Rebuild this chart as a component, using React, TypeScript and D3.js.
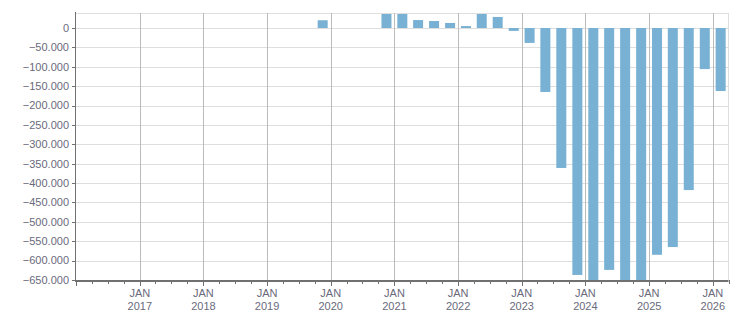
import React from "react";
import * as d3 from "d3";

const quarters: string[] = [
  "2019-Q4", "2020-Q4", "2021-Q1", "2021-Q2", "2021-Q3", "2021-Q4",
  "2022-Q1", "2022-Q2", "2022-Q3", "2022-Q4", "2023-Q1", "2023-Q2",
  "2023-Q3", "2023-Q4", "2024-Q1", "2024-Q2", "2024-Q3", "2024-Q4",
  "2025-Q1", "2025-Q2", "2025-Q3", "2025-Q4", "2026-Q1",
];
const values: number[] = [
  20000, 38000, 37000, 20500, 18000, 13000,
  5000, 37000, 28500, -7500, -38500, -165000,
  -361000, -637000, -660000, -624000, -660000, -660000,
  -585000, -565000, -418000, -106000, -162500,
];
const yTicks: number[] = [0, -50000, -100000, -150000, -200000, -250000, -300000, -350000, -400000, -450000, -500000, -550000, -600000, -650000];
const yearTicks: number[] = [2017, 2018, 2019, 2020, 2021, 2022, 2023, 2024, 2025, 2026];

const W = 751, H = 313;
const L = 76, R = 728.5, T = 13, B = 280;
const FONT = "'Liberation Sans', Arial, sans-serif";
const TXT = "#6a6a7c";

function qStart(q: string): Date {
  const [y, qq] = q.split("-Q");
  return new Date(Date.UTC(+y, (+qq - 1) * 3, 1));
}

export default function App() {
  const x = d3.scaleUtc().domain([new Date(Date.UTC(2016, 0, 1)), new Date(Date.UTC(2026, 3, 1))]).range([L, R]);
  const y = d3.scaleLinear().domain([-650000, 38700]).range([B, T]);
  const fmt = (v: number) => d3.format(",")(v).replace(/,/g, ".");
  const quarterTicks = d3.utcMonth.every(3)!.range(new Date(Date.UTC(2016, 0, 1)), new Date(Date.UTC(2026, 3, 2)));
  const bw = 10;

  return (
    <svg width={W} height={H} style={{ position: "absolute", left: 0, top: 0 }}>
      <defs>
        <clipPath id="plot">
          <rect x={L} y={T + 1} width={R - L} height={B - T - 1} />
        </clipPath>
      </defs>
      <rect x={0} y={0} width={W} height={H} fill="#fff" />
      {/* horizontal grid */}
      {yTicks.map((t) => (
        <line key={"hg" + t} x1={L} x2={R} y1={Math.round(y(t)) + 0.5} y2={Math.round(y(t)) + 0.5} stroke="#dedede" strokeWidth={1} />
      ))}
      <line x1={L} x2={R} y1={T + 0.5} y2={T + 0.5} stroke="#dedede" />
      <line x1={R} x2={R} y1={T} y2={B} stroke="#dedede" />
      {/* vertical year grid */}
      {yearTicks.map((yr) => {
        const xx = Math.round(x(new Date(Date.UTC(yr, 0, 1)))) + 0.5;
        return <line key={"vg" + yr} x1={xx} x2={xx} y1={T} y2={B} stroke="#bbbbbb" />;
      })}
      {/* bars */}
      <g clipPath="url(#plot)">
        {quarters.map((q, i) => {
          const s = qStart(q);
          const e = d3.utcMonth.offset(s, 3);
          const cx = (x(s) + x(e)) / 2;
          const v = values[i];
          const y0 = y(0), y1 = y(v);
          return (
            <rect key={q} x={cx - bw / 2} y={Math.min(y0, y1)} width={bw} height={Math.abs(y1 - y0)} fill="#78b1d4" />
          );
        })}
      </g>
      {/* y axis */}
      <line x1={L - 0.5} x2={L - 0.5} y1={T - 1} y2={B + 1} stroke="#707070" />
      {yTicks.map((t) => (
        <g key={"yt" + t}>
          <line x1={L - 4} x2={L} y1={Math.round(y(t)) + 0.5} y2={Math.round(y(t)) + 0.5} stroke="#707070" />
          <text x={L - 7} y={y(t)} dy="0.35em" textAnchor="end" fontFamily={FONT} fontSize={11} fill={TXT}>
            {fmt(t)}
          </text>
        </g>
      ))}
      {/* x axis */}
      {quarterTicks.map((d) => {
        const xx = Math.round(x(d)) + 0.5;
        const major = d.getUTCMonth() === 0;
        return <line key={"qt" + d.getTime()} x1={xx} x2={xx} y1={B} y2={major ? B + 6 : B + 4} stroke="#707070" />;
      })}
      <line x1={L - 1} x2={R} y1={B + 1} y2={B + 1} stroke="#707070" strokeWidth={2} />
      {yearTicks.map((yr) => {
        const xx = x(new Date(Date.UTC(yr, 0, 1)));
        return (
          <g key={"xl" + yr} fontFamily={FONT} fontSize={11} fill={TXT} textAnchor="middle">
            <text x={xx} y={297}>JAN</text>
            <text x={xx} y={310}>{yr}</text>
          </g>
        );
      })}
    </svg>
  );
}
